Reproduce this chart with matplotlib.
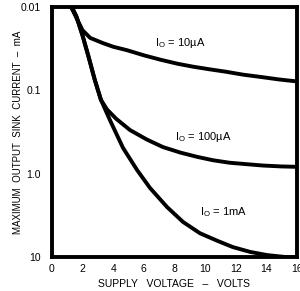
import numpy as np
import matplotlib.pyplot as plt

plt.rcParams['font.family'] = ['Liberation Sans', 'DejaVu Sans']

# Io = 10uA curve
v_10u = [1.25, 1.6, 2.0, 2.5, 3.3, 4.0, 4.9, 6.0, 7.1, 8.2, 9.2, 10.3, 11.4, 12.5, 13.6, 14.8, 16.2]
i_10u = [0.01, 0.0135, 0.019, 0.0235, 0.027, 0.030, 0.033, 0.038, 0.043, 0.048, 0.052, 0.056, 0.060, 0.065, 0.069, 0.074, 0.079]

# Io = 100uA curve
v_100u = [1.3, 1.6, 2.0, 2.4, 2.8, 3.2, 3.6, 4.2, 5.1, 6.2, 7.25, 8.4, 9.5, 10.5, 11.6, 12.7, 13.8, 15.0, 16.2]
i_100u = [0.01, 0.013, 0.022, 0.040, 0.075, 0.13, 0.17, 0.22, 0.30, 0.39, 0.48, 0.56, 0.63, 0.69, 0.74, 0.77, 0.80, 0.82, 0.83]

# Io = 1mA curve
v_1m = [1.3, 1.6, 2.0, 2.4, 2.8, 3.2, 3.79, 4.64, 5.56, 6.41, 7.52, 8.56, 9.67, 10.8, 11.8, 12.94, 14.05, 15.2, 16.2]
i_1m = [0.01, 0.013, 0.022, 0.040, 0.075, 0.13, 0.228, 0.49, 0.905, 1.49, 2.52, 3.8, 5.2, 6.4, 7.6, 8.7, 9.5, 10.0, 10.0]

xticks = [0, 2, 4, 6, 8, 10, 12, 14, 16]
yticks = [0.01, 0.1, 1.0, 10]
ylabels = ['0.01', '0.1', '1.0', '10']

fig = plt.figure(figsize=(3.0, 2.91), dpi=100)
ax = fig.add_axes([0.173, 0.117, 0.817, 0.859])

for v, i in [(v_10u, i_10u), (v_100u, i_100u), (v_1m, i_1m)]:
    ax.plot(v, i, color='black', linewidth=2.8, solid_capstyle='round', solid_joinstyle='round')

ax.set_yscale('log')
ax.set_xlim(0, 16)
ax.set_ylim(10, 0.01)
ax.set_xticks(xticks)
ax.set_xticklabels([str(t) for t in xticks])
ax.set_yticks(yticks)
ax.set_yticklabels(ylabels)
ax.minorticks_off()
ax.tick_params(length=0, labelsize=7.5)
ax.tick_params(axis='y', pad=8)
ax.tick_params(axis='x', pad=5)
for s in ax.spines.values():
    s.set_linewidth(2.8)

ax.text(8.4, 0.027, r'I$_\mathregular{O}$ = 10µA', fontsize=8, ha='center', va='center')
ax.text(9.9, 0.36, r'I$_\mathregular{O}$ = 100µA', fontsize=8, ha='center', va='center')
ax.text(11.2, 2.9, r'I$_\mathregular{O}$ = 1mA', fontsize=8, ha='center', va='center')

ax.set_xlabel('SUPPLY   VOLTAGE   –   VOLTS', fontsize=7.5, labelpad=4)
ax.set_ylabel('MAXIMUM  OUTPUT  SINK  CURRENT  –  mA', fontsize=7)
ax.yaxis.set_label_coords(-0.118, 0.5)

fig.savefig('out.png', dpi=100)
plt.close(fig)
